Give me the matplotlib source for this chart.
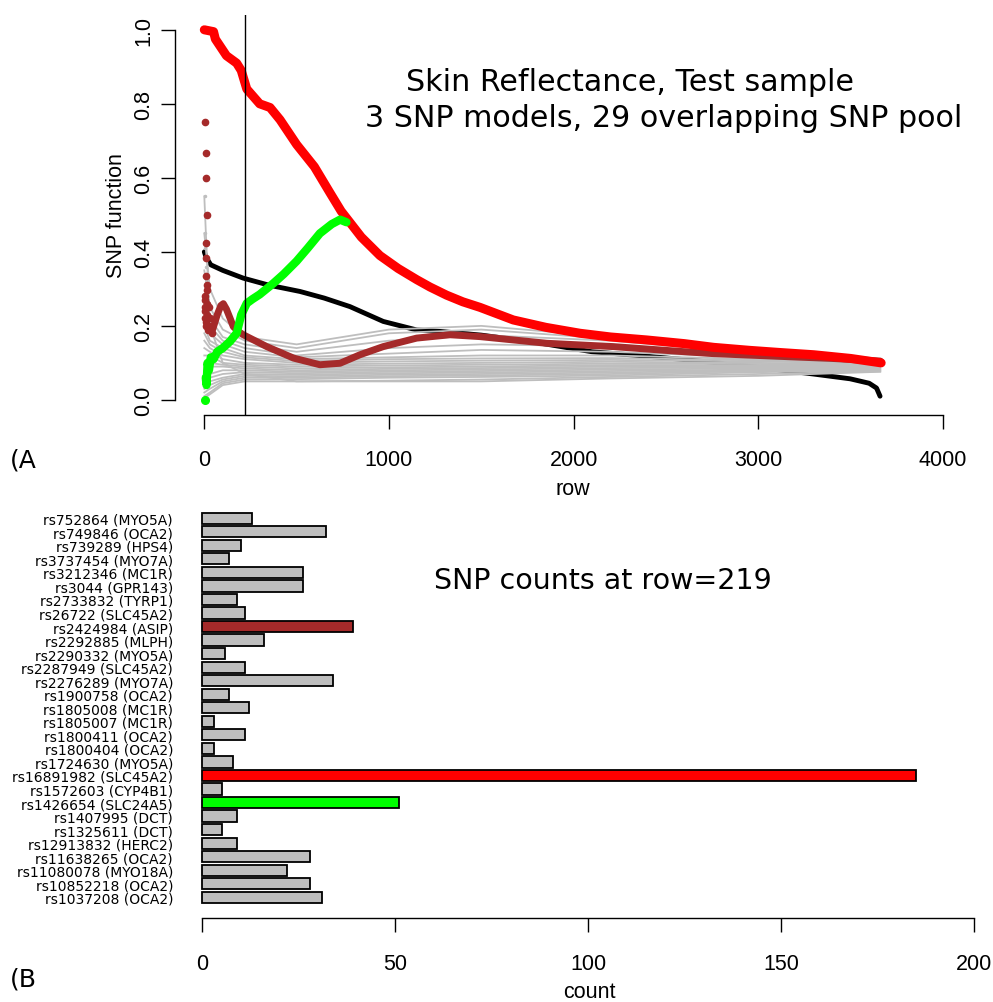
import matplotlib
matplotlib.use('Agg')
import matplotlib.pyplot as plt

plt.rcParams['font.family'] = ['Liberation Sans', 'DejaVu Sans']
WIDE = ['DejaVu Sans']   # the reference's titles and bar names are drawn wider

# ---- panel A: SNP function along rows ----
red_rows = [0, 50, 60, 120, 175, 200, 230, 300, 356, 410, 500, 596, 680, 741, 850, 951,
            1050, 1150, 1222, 1312, 1400, 1493, 1673, 1850, 2035, 2200, 2395, 2600, 2758,
            2950, 3119, 3300, 3500, 3665]
red_vals = [1.0, 0.995, 0.975, 0.93, 0.91, 0.89, 0.84, 0.80, 0.79, 0.757, 0.69, 0.63, 0.56,
            0.51, 0.44, 0.39, 0.355, 0.325, 0.305, 0.283, 0.265, 0.25, 0.216, 0.196, 0.18,
            0.17, 0.162, 0.152, 0.142, 0.134, 0.128, 0.122, 0.112, 0.10]

black_rows = [0, 10, 35, 100, 211, 350, 518, 650, 789, 969, 1150, 1276, 1500, 1800, 2100,
              2400, 2700, 3000, 3297, 3497, 3600, 3640, 3659]
black_vals = [0.40, 0.385, 0.365, 0.35, 0.329, 0.31, 0.293, 0.275, 0.252, 0.212, 0.189,
              0.185, 0.175, 0.155, 0.13, 0.118, 0.104, 0.088, 0.07, 0.057, 0.045, 0.032, 0.01]

green_rows = [8, 12, 18, 25, 35, 50, 70, 100, 139, 175, 200, 230, 260, 300, 374, 430, 500,
              560, 626, 690, 735, 770]
green_vals = [0.06, 0.04, 0.1, 0.08, 0.115, 0.11, 0.13, 0.14, 0.158, 0.18, 0.23, 0.261,
              0.272, 0.285, 0.315, 0.34, 0.375, 0.41, 0.45, 0.475, 0.487, 0.48]
green_dot_rows = [3]
green_dot_vals = [0.0]

brown_rows = [20, 45, 70, 90, 103, 120, 140, 157, 185, 211, 338, 483, 626, 735, 843, 969,
              1150, 1331, 1493, 1854, 2215, 2576, 2757, 3100, 3400, 3660]
brown_vals = [0.2, 0.19, 0.23, 0.255, 0.26, 0.245, 0.22, 0.198, 0.185, 0.176, 0.144, 0.113,
              0.095, 0.099, 0.122, 0.144, 0.167, 0.176, 0.171, 0.153, 0.144, 0.131, 0.125,
              0.118, 0.112, 0.105]
brown_dot_rows = [6, 8, 10, 12, 7, 9, 11, 13, 14, 2, 4, 6, 8, 3, 5, 7, 12, 16, 20, 25, 30,
                  36, 42]
brown_dot_vals = [0.75, 0.667, 0.6, 0.5, 0.425, 0.383, 0.335, 0.31, 0.297, 0.28, 0.25, 0.22,
                  0.2, 0.27, 0.24, 0.21, 0.26, 0.23, 0.19, 0.25, 0.22, 0.2, 0.18]

grey_rows = [0, 30, 100, 219, 500, 1000, 1500, 2200, 3000, 3660]
grey_lines = [
    [0.45, 0.30, 0.22, 0.17, 0.15, 0.19, 0.20, 0.17, 0.13, 0.108],
    [0.35, 0.25, 0.19, 0.16, 0.14, 0.18, 0.19, 0.165, 0.128, 0.107],
    [0.28, 0.22, 0.17, 0.15, 0.13, 0.16, 0.175, 0.16, 0.125, 0.106],
    [0.25, 0.20, 0.16, 0.14, 0.12, 0.14, 0.15, 0.145, 0.12, 0.105],
    [0.22, 0.18, 0.15, 0.13, 0.115, 0.125, 0.135, 0.13, 0.115, 0.104],
    [0.20, 0.16, 0.14, 0.12, 0.11, 0.115, 0.12, 0.12, 0.11, 0.102],
    [0.18, 0.15, 0.13, 0.115, 0.105, 0.11, 0.112, 0.113, 0.107, 0.10],
    [0.16, 0.14, 0.12, 0.11, 0.10, 0.104, 0.106, 0.108, 0.104, 0.098],
    [0.14, 0.13, 0.11, 0.10, 0.095, 0.098, 0.1, 0.103, 0.1, 0.096],
    [0.12, 0.12, 0.10, 0.095, 0.09, 0.093, 0.095, 0.098, 0.097, 0.094],
    [0.10, 0.10, 0.095, 0.09, 0.085, 0.088, 0.09, 0.094, 0.094, 0.092],
    [0.08, 0.09, 0.09, 0.085, 0.08, 0.084, 0.086, 0.09, 0.091, 0.09],
    [0.06, 0.07, 0.08, 0.08, 0.076, 0.08, 0.082, 0.086, 0.088, 0.088],
    [0.05, 0.06, 0.07, 0.075, 0.072, 0.076, 0.078, 0.082, 0.085, 0.086],
    [0.04, 0.05, 0.06, 0.07, 0.068, 0.072, 0.074, 0.078, 0.082, 0.084],
    [0.03, 0.04, 0.055, 0.065, 0.064, 0.068, 0.07, 0.074, 0.08, 0.082],
    [0.02, 0.03, 0.05, 0.06, 0.06, 0.064, 0.066, 0.07, 0.078, 0.08],
    [0.01, 0.02, 0.045, 0.055, 0.056, 0.06, 0.062, 0.066, 0.075, 0.079],
    [0.005, 0.015, 0.04, 0.05, 0.05, 0.052, 0.055, 0.062, 0.07, 0.077],
    [0.55, 0.2, 0.1, 0.07, 0.05, 0.05, 0.05, 0.058, 0.065, 0.076],
]
grey_dot_rows = [5, 6, 7, 5, 6, 7]
grey_dot_vals = [0.595, 0.55, 0.5, 0.45, 0.41, 0.36]

cut_row = 219

# ---- panel B: SNP counts at the cut row ----
snp_names = ['rs752864 (MYO5A)', 'rs749846 (OCA2)', 'rs739289 (HPS4)', 'rs3737454 (MYO7A)',
             'rs3212346 (MC1R)', 'rs3044 (GPR143)', 'rs2733832 (TYRP1)', 'rs26722 (SLC45A2)',
             'rs2424984 (ASIP)', 'rs2292885 (MLPH)', 'rs2290332 (MYO5A)', 'rs2287949 (SLC45A2)',
             'rs2276289 (MYO7A)', 'rs1900758 (OCA2)', 'rs1805008 (MC1R)', 'rs1805007 (MC1R)',
             'rs1800411 (OCA2)', 'rs1800404 (OCA2)', 'rs1724630 (MYO5A)', 'rs16891982 (SLC45A2)',
             'rs1572603 (CYP4B1)', 'rs1426654 (SLC24A5)', 'rs1407995 (DCT)', 'rs1325611 (DCT)',
             'rs12913832 (HERC2)', 'rs11638265 (OCA2)', 'rs11080078 (MYO18A)',
             'rs10852218 (OCA2)', 'rs1037208 (OCA2)']
snp_counts = [13, 32, 10, 7, 26, 26, 9, 11, 39, 16, 6, 11, 34, 7, 12, 3, 11, 3, 8, 185,
              5, 51, 9, 5, 9, 28, 22, 28, 31]
highlight = {'rs2424984 (ASIP)': '#A52A2A', 'rs16891982 (SLC45A2)': '#FF0000',
             'rs1426654 (SLC24A5)': '#00FF00'}

W, H = 993, 1003
fig = plt.figure(figsize=(W / 100, H / 100), dpi=100)

# top panel, pixel box: x 175..965, y 16..415.7
ax = fig.add_axes([175 / W, 1 - 415.7 / H, 790 / W, 399.7 / H])
for vals in grey_lines:
    ax.plot(grey_rows, vals, color='#BEBEBE', lw=1.3, zorder=2)
ax.plot(grey_dot_rows, grey_dot_vals, 'o', color='#BEBEBE', ms=1.5, zorder=2)
ax.plot(black_rows, black_vals, color='black', lw=3.5, zorder=1.5, solid_capstyle='round')
ax.plot(brown_rows, brown_vals, color='#A52A2A', lw=5, zorder=2.5, solid_capstyle='round')
ax.plot(brown_dot_rows, brown_dot_vals, 'o', color='#A52A2A', ms=4.5, zorder=3)
ax.plot(red_rows, red_vals, color='#FF0000', lw=6.5, zorder=4, solid_capstyle='round')
ax.plot(green_rows, green_vals, color='#00FF00', lw=6, zorder=5, solid_capstyle='round')
ax.plot(green_dot_rows, green_dot_vals, 'o', color='#00FF00', ms=5.5, zorder=5)
ax.axvline(cut_row, color='black', lw=1.0, zorder=6)

ax.set_xlim((175 - 204.3) / 0.18468, (965 - 204.3) / 0.18468)
ax.set_ylim(-0.04, 1.04)
for s in ['top', 'right']:
    ax.spines[s].set_visible(False)
ax.spines['left'].set_bounds(0, 1)
ax.spines['bottom'].set_bounds(0, 4000)
ax.spines['left'].set_linewidth(1.0)
ax.spines['bottom'].set_linewidth(1.0)
ax.set_xticks([0, 1000, 2000, 3000, 4000])
ax.set_yticks([0.0, 0.2, 0.4, 0.6, 0.8, 1.0])
ax.set_yticklabels(['0.0', '0.2', '0.4', '0.6', '0.8', '1.0'])
ax.tick_params(axis='both', direction='out', length=10, width=1.0, labelsize=15.5)
ax.tick_params(axis='x', pad=15)
ax.tick_params(axis='y', pad=5)
for lab in ax.get_yticklabels():
    lab.set_rotation(90)
    lab.set_va('center')
ax.set_xlabel('row', fontsize=15.5)
ax.xaxis.set_label_coords(573 / W, 1 - 490 / H, transform=fig.transFigure)
ax.xaxis.label.set_va('center')
ax.set_ylabel('SNP function', fontsize=15.5)
ax.yaxis.set_label_coords(117 / W, 1 - 216 / H, transform=fig.transFigure)
ax.yaxis.label.set_va('center')
ax.text(0.576, 0.813, 'Skin Reflectance, Test sample', transform=ax.transAxes,
        ha='center', va='baseline', fontsize=21.7, family=WIDE)
ax.text(0.618, 0.7215, '3 SNP models, 29 overlapping SNP pool', transform=ax.transAxes,
        ha='center', va='baseline', fontsize=21.7, family=WIDE)
fig.text(10 / W, 1 - 468 / H, '(A', fontsize=18, ha='left', va='baseline', family=WIDE)

# bottom panel, pixel box: x 180..985, y 498.5..919
ax2 = fig.add_axes([180 / W, 1 - 919 / H, 805 / W, 420.5 / H])
ypos = list(range(len(snp_names) - 1, -1, -1))
colors = [highlight.get(n, '#BEBEBE') for n in snp_names]
ax2.barh(ypos, snp_counts, height=0.83, color=colors, edgecolor='black', linewidth=1.3)
ax2.set_xlim((180 - 202.3) / 3.857, (985 - 202.3) / 3.857)
ax2.set_ylim(-1.53, len(snp_names) - 1 + 1.53)
for s in ['top', 'right', 'left']:
    ax2.spines[s].set_visible(False)
ax2.spines['bottom'].set_bounds(0, 200)
ax2.spines['bottom'].set_linewidth(1.0)
ax2.set_xticks([0, 50, 100, 150, 200])
ax2.set_yticks(ypos)
ax2.set_yticklabels(snp_names, fontsize=10, family=WIDE)
ax2.tick_params(axis='y', length=0, pad=5)
ax2.tick_params(axis='x', direction='out', length=10, width=1.0, labelsize=15.5, pad=15)
ax2.set_xlabel('count', fontsize=15.5)
ax2.xaxis.set_label_coords(589 / W, 1 - 993 / H, transform=fig.transFigure)
ax2.xaxis.label.set_va('center')
ax2.text(0.525, 0.784, 'SNP counts at row=219', transform=ax2.transAxes,
         ha='center', va='baseline', fontsize=20.5, family=WIDE)
fig.text(10 / W, 1 - 987 / H, '(B', fontsize=18, ha='left', va='baseline', family=WIDE)

fig.savefig('out.png', dpi=100)
